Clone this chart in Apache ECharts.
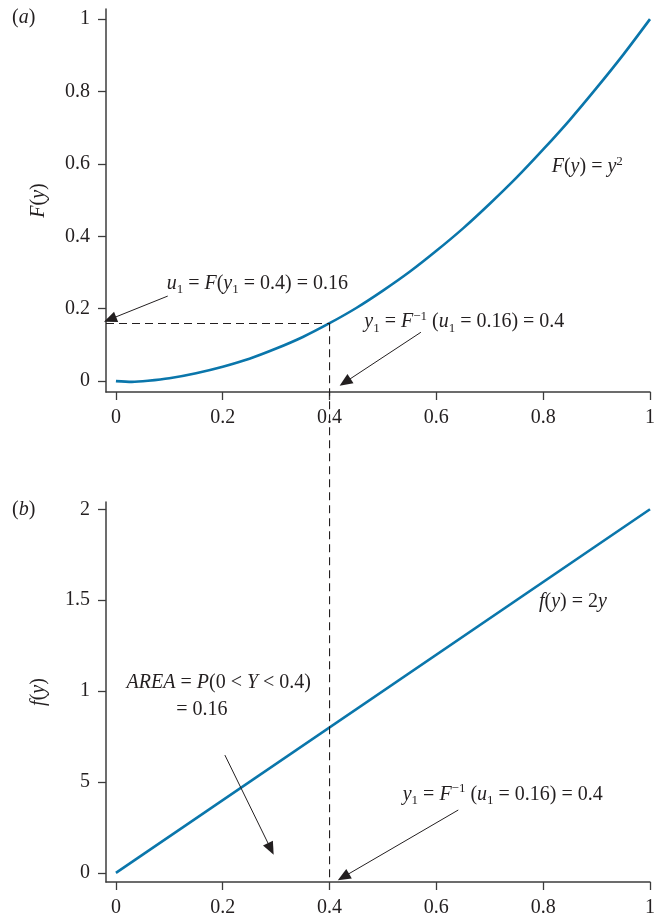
<!DOCTYPE html>
<html><head><meta charset="utf-8">
<script src="https://cdn.jsdelivr.net/npm/echarts@6/dist/echarts.min.js"></script>
<style>html,body{margin:0;padding:0;background:#fff}#c{width:658px;height:918px}</style>
</head><body><div id="c"></div>
<script>
// ---- data ----
const xTicks = [0, 0.2, 0.4, 0.6, 0.8, 1];
const xTickLabels = ['0', '0.2', '0.4', '0.6', '0.8', '1'];
const topYTicks = [0, 0.2, 0.4, 0.6, 0.8, 1];
const topYTickLabels = ['0', '0.2', '0.4', '0.6', '0.8', '1'];
const botYTicks = [0, 0.5, 1, 1.5, 2];
const botYTickLabels = ['0', '5', '1', '1.5', '2'];
const cdfX = [0, 0.03, 0.06, 0.1, 0.15, 0.2, 0.25, 0.3, 0.35, 0.4, 0.45, 0.5, 0.55, 0.6, 0.65, 0.7, 0.75, 0.8, 0.85, 0.9, 0.95, 1];
const cdfY = [0, -0.002, 0.001, 0.008, 0.022, 0.04, 0.062, 0.09, 0.122, 0.16, 0.202, 0.25, 0.302, 0.36, 0.422, 0.49, 0.562, 0.64, 0.722, 0.81, 0.902, 1];
const pdfX = [0, 1];
const pdfY = [0, 2];
const u1 = 0.16, y1v = 0.4;
// annotation arrows [x1,y1,x2(tip),y2(tip)] in data units
const topArrows = [[0.097, 0.235, -0.011, 0.171], [0.571, 0.135, 0.429, -0.003]];
const botArrows = [[0.204, 0.648, 0.290, 0.132], [0.641, 0.346, 0.426, -0.022]];
// ---- styles ----
const FONT = '"Liberation Serif","DejaVu Serif",serif';
const INK = '#231f20';
const AXC = '#3c3c3c';
const BLUE = '#0a76ab';
const FS = 20;
const rich = {
  it: {fontSize: FS, fontStyle: 'italic', fontFamily: FONT, fill: INK, color: INK, lineHeight: 22},
  n: {fontSize: FS, fontFamily: FONT, fill: INK, color: INK, lineHeight: 22},
  sub: {fontSize: 13, fontFamily: FONT, fill: INK, color: INK, lineHeight: 22, padding: [12, 0, 0, 0]},
  sup: {fontSize: 13, fontFamily: FONT, fill: INK, color: INK, lineHeight: 22, padding: [0, 0, 12, 0]}
};
const notes = [
  {g: 0, x: 0.095, y: 0.27, t: '{it|u}{sub|1}{n| = }{it|F}{n|(}{it|y}{sub|1}{n| = 0.4) = 0.16}'},
  {g: 0, x: 0.465, y: 0.163, t: '{it|y}{sub|1}{n| = }{it|F}{sup|−1}{n| (}{it|u}{sub|1}{n| = 0.16) = 0.4}'},
  {g: 0, x: 0.816, y: 0.591, t: '{it|F}{n|(}{it|y}{n|) = }{it|y}{sup|2}'},
  {g: 1, x: 0.02, y: 1.044, t: '{it|AREA}{n| = }{it|P}{n|(0 < }{it|Y}{n| < 0.4)}'},
  {g: 1, x: 0.113, y: 0.90, t: '{n|= 0.16}'},
  {g: 1, x: 0.537, y: 0.429, t: '{it|y}{sub|1}{n| = }{it|F}{sup|−1}{n| (}{it|u}{sub|1}{n| = 0.16) = 0.4}'},
  {g: 1, x: 0.792, y: 1.489, t: '{it|f}{n|(}{it|y}{n|) = 2}{it|y}'}
];
const xMin = -0.0186, xMax = 1.0;

function xAxisCfg(i) {
  return {
    type: 'value', gridIndex: i, min: xMin, max: xMax,
    axisLine: {show: true, onZero: false, lineStyle: {color: AXC, width: 1.5}},
    axisTick: {show: true, customValues: xTicks, length: 8, lineStyle: {color: AXC, width: 1.3}},
    axisLabel: {customValues: xTicks, margin: 16, fontSize: FS, fontFamily: FONT, color: INK,
      formatter: v => xTickLabels[xTicks.indexOf(v)]},
    splitLine: {show: false}
  };
}
function yAxisCfg(i, ticks, labels, min, max, name) {
  return {
    type: 'value', gridIndex: i, min: min, max: max,
    name: name, nameLocation: 'middle', nameGap: 56,
    nameTextStyle: {rich: rich, fontSize: FS, fontFamily: FONT, color: INK},
    axisLine: {show: true, onZero: false, lineStyle: {color: AXC, width: 1.5}},
    axisTick: {show: true, customValues: ticks, length: 8, lineStyle: {color: AXC, width: 1.3}},
    axisLabel: {customValues: ticks, margin: 16, fontSize: FS, fontFamily: FONT, color: INK,
      formatter: v => labels[ticks.indexOf(v)]},
    splitLine: {show: false}
  };
}
function arrowData(arr) {
  return arr.map(a => [{coord: [a[0], a[1]], symbol: 'none'}, {coord: [a[2], a[3]], symbol: 'triangle', symbolSize: [11, 13]}]);
}

const chart = echarts.init(document.getElementById('c'), null, {renderer: 'canvas'});
chart.setOption({
  animation: false,
  grid: [
    {left: 106, right: 4, top: 9, height: 383},
    {left: 106, right: 4, top: 502, height: 381}
  ],
  xAxis: [xAxisCfg(0), xAxisCfg(1)],
  yAxis: [
    yAxisCfg(0, topYTicks, topYTickLabels, -0.03, 1.028, '{it|F}{n|(}{it|y}{n|)}'),
    yAxisCfg(1, botYTicks, botYTickLabels, -0.05, 2.04, '{it|f}{n|(}{it|y}{n|)}')
  ],
  series: [
    {
      type: 'line', xAxisIndex: 0, yAxisIndex: 0, smooth: 0.3, showSymbol: false, silent: true,
      data: cdfX.map((x, i) => [x, cdfY[i]]),
      lineStyle: {color: BLUE, width: 2.6}, itemStyle: {color: BLUE},
      markLine: {
        silent: true, animation: false, label: {show: false},
        symbol: ['none', 'triangle'], symbolSize: 12,
        itemStyle: {color: INK},
        lineStyle: {color: INK, width: 1, type: 'solid'},
        data: arrowData(topArrows).concat([
          [{coord: [xMin, u1], symbol: 'none', lineStyle: {type: [8, 5], width: 1.1, color: INK}},
           {coord: [y1v, u1], symbol: 'none'}]
        ])
      }
    },
    {
      type: 'line', xAxisIndex: 1, yAxisIndex: 1, showSymbol: false, silent: true,
      data: pdfX.map((x, i) => [x, pdfY[i]]),
      lineStyle: {color: BLUE, width: 2.6}, itemStyle: {color: BLUE},
      markLine: {
        silent: true, animation: false, label: {show: false},
        symbol: ['none', 'triangle'], symbolSize: 12,
        itemStyle: {color: INK},
        lineStyle: {color: INK, width: 1, type: 'solid'},
        data: arrowData(botArrows)
      }
    }
  ]
});

// overlay: vertical dashed line spanning both panels, and text annotations
const pTop = chart.convertToPixel({gridIndex: 0}, [y1v, u1]);
const pBot = chart.convertToPixel({gridIndex: 1}, [y1v, -0.05]);
const graphics = [
  {type: 'line', z: 100, shape: {x1: pTop[0], y1: pTop[1], x2: pBot[0], y2: pBot[1]},
   style: {stroke: INK, lineWidth: 1.1, lineDash: [8, 5]}},
  {type: 'text', left: 12, top: 8, style: {text: '{n|(}{it|a}{n|)}', rich: rich, fill: INK, font: FS + 'px ' + FONT}},
  {type: 'text', left: 12, top: 500, style: {text: '{n|(}{it|b}{n|)}', rich: rich, fill: INK, font: FS + 'px ' + FONT}}
];
notes.forEach(n => {
  const p = chart.convertToPixel({gridIndex: n.g}, [n.x, n.y]);
  graphics.push({type: 'text', x: p[0], y: p[1], z: 100,
    style: {text: n.t, rich: rich, fill: INK, font: FS + 'px ' + FONT, align: 'left', verticalAlign: 'middle'}});
});
chart.setOption({graphic: graphics});
</script>
</body></html>
